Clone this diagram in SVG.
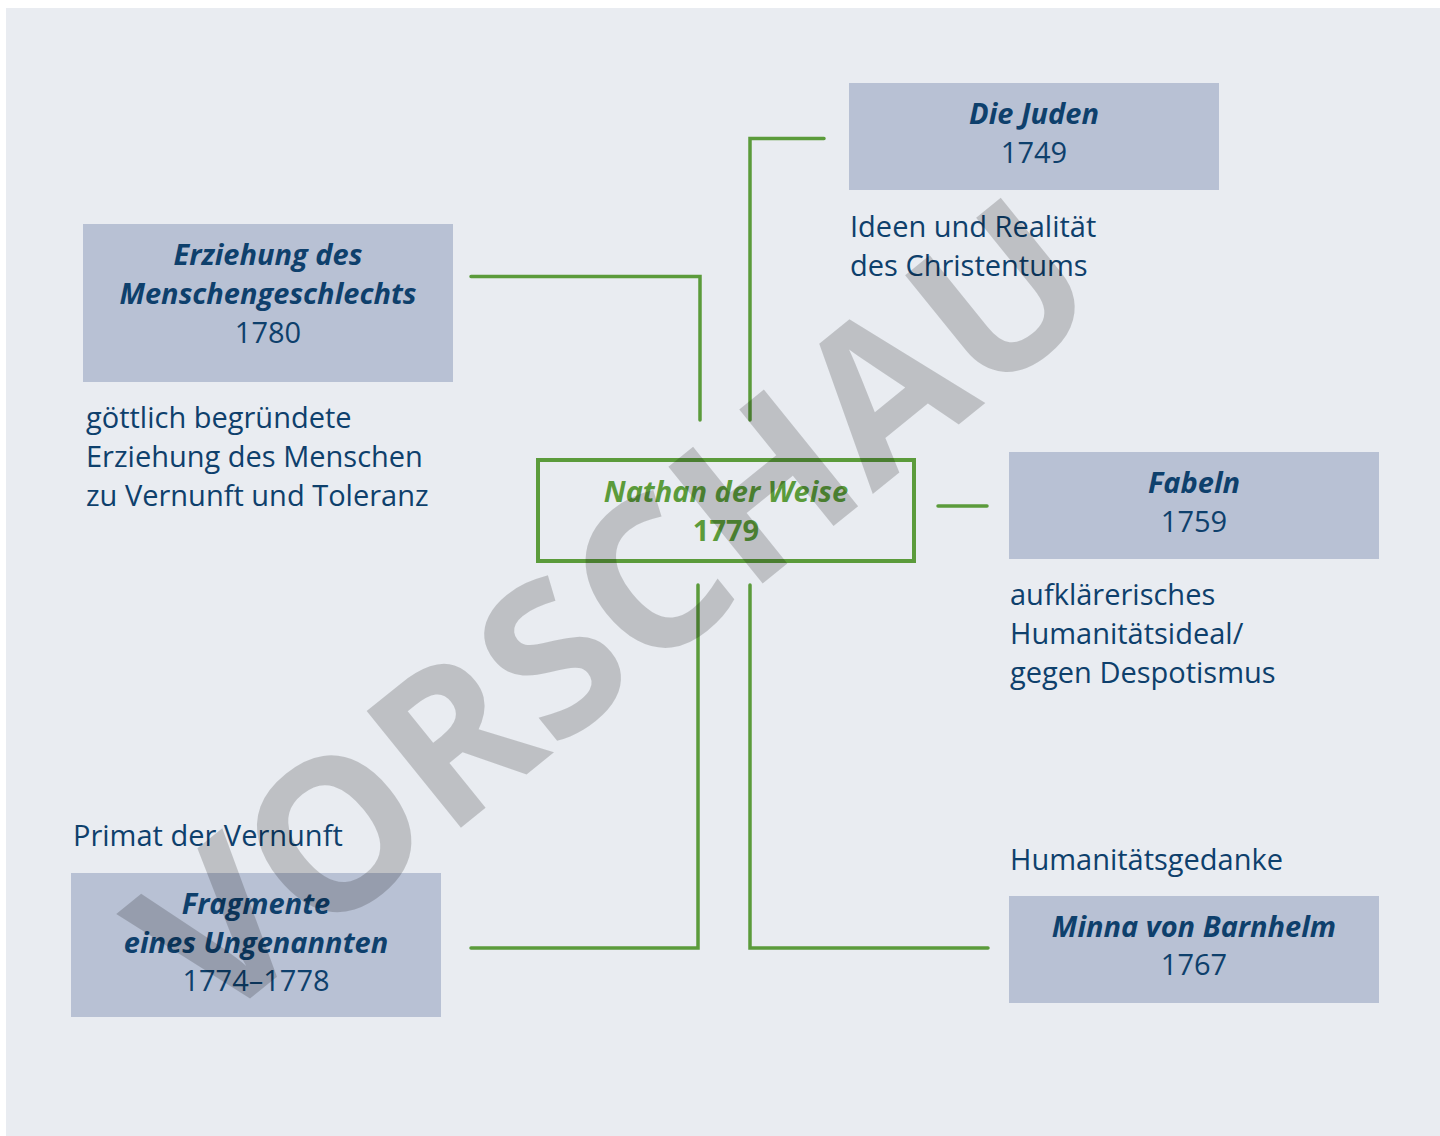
<svg xmlns="http://www.w3.org/2000/svg" width="1440" height="1136" viewBox="0 0 1440 1136">
<style>
.bg{fill:#e9ecf1}
.box{fill:#b8c1d4}
.t{font-family:"Open Sans","Noto Sans","Liberation Sans",sans-serif;font-size:29px;fill:#0e406c}
.ti{font-weight:700;font-style:italic}
.c{text-anchor:middle}
.con{fill:none;stroke:#5b9b3b;stroke-width:3.5;stroke-linecap:round;stroke-linejoin:miter}
.g{fill:#5b9b3b}
.wm{font-family:"Open Sans","Liberation Sans",sans-serif;font-weight:700;font-size:210px;fill:#000;fill-opacity:0.185}
</style>
<rect class="bg" x="6" y="8" width="1434" height="1128"/>
<g id="connectors">
<path class="con" d="M471,276.5 H700 V420"/>
<path class="con" d="M824,138.5 H750 V420"/>
<path class="con" d="M938,506 H987"/>
<path class="con" d="M471,948 H698 V585"/>
<path class="con" d="M988,948 H750 V585"/>
</g>
<g id="node-erziehung">
<rect class="box" x="83" y="224" width="370" height="158"/>
<text class="t ti c" x="268" y="265">Erziehung des</text>
<text class="t ti c" x="268" y="304">Menschengeschlechts</text>
<text class="t c" x="268" y="343">1780</text>
</g>
<g id="label-erziehung">
<text class="t" x="86" y="428">göttlich begründete</text>
<text class="t" x="86" y="467">Erziehung des Menschen</text>
<text class="t" x="86" y="506">zu Vernunft und Toleranz</text>
</g>
<g id="node-juden">
<rect class="box" x="849" y="83" width="370" height="107"/>
<text class="t ti c" x="1034" y="124">Die Juden</text>
<text class="t c" x="1034" y="163">1749</text>
</g>
<g id="label-juden">
<text class="t" x="850" y="237">Ideen und Realität</text>
<text class="t" x="850" y="276">des Christentums</text>
</g>
<g id="node-nathan">
<rect x="538" y="460" width="376" height="101" fill="none" stroke="#5b9b3b" stroke-width="4"/>
<text class="t ti c g" x="726" y="502">Nathan der Weise</text>
<text class="t c g" x="726" y="541" font-weight="700">1779</text>
</g>
<g id="node-fabeln">
<rect class="box" x="1009" y="452" width="370" height="107"/>
<text class="t ti c" x="1194" y="493">Fabeln</text>
<text class="t c" x="1194" y="532">1759</text>
</g>
<g id="label-fabeln">
<text class="t" x="1010" y="605">aufklärerisches</text>
<text class="t" x="1010" y="644">Humanitätsideal/</text>
<text class="t" x="1010" y="683">gegen Despotismus</text>
</g>
<g id="label-minna">
<text class="t" x="1010" y="870">Humanitätsgedanke</text>
</g>
<g id="node-minna">
<rect class="box" x="1009" y="896" width="370" height="107"/>
<text class="t ti c" x="1194" y="937">Minna von Barnhelm</text>
<text class="t c" x="1194" y="975">1767</text>
</g>
<g id="label-fragmente">
<text class="t" x="73" y="846">Primat der Vernunft</text>
</g>
<g id="node-fragmente">
<rect class="box" x="71" y="873" width="370" height="144"/>
<text class="t ti c" x="256" y="914">Fragmente</text>
<text class="t ti c" x="256" y="953">eines Ungenannten</text>
<text class="t c" x="256" y="991">1774–1778</text>
</g>
<text class="wm" text-anchor="middle" transform="translate(612,608) rotate(-39)" dy="0.36em">VORSCHAU</text>
</svg>
